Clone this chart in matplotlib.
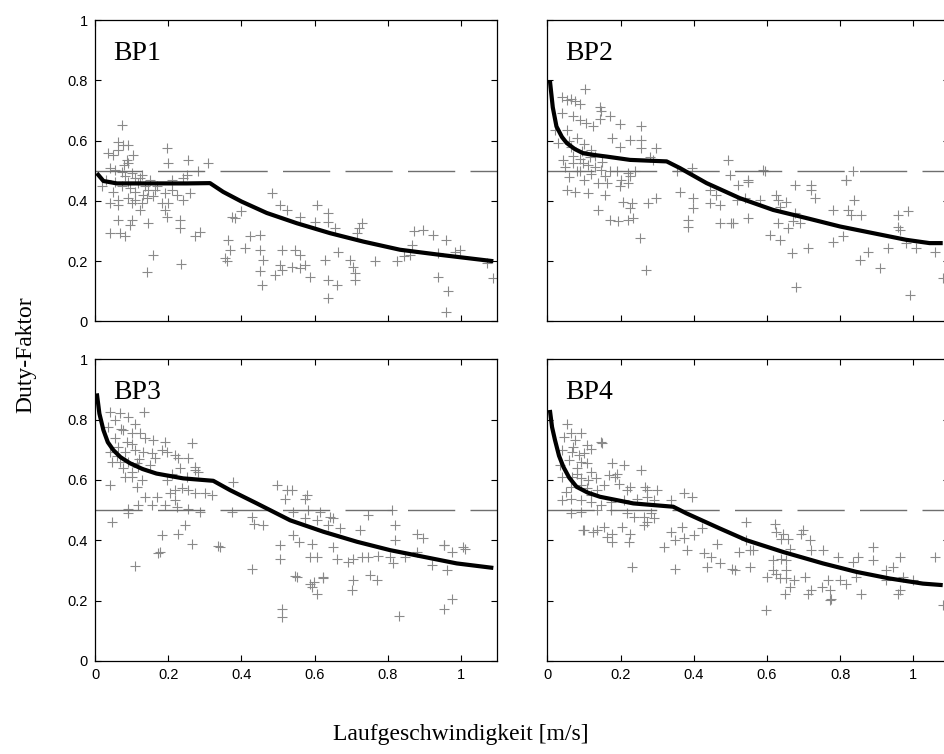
import numpy as np
import matplotlib
matplotlib.use('Agg')
import matplotlib.pyplot as plt

# ── Data ─────────────────────────────────────────────────────────────────────
panel_names = ['BP1', 'BP2', 'BP3', 'BP4']
x_ticks = [0, 0.2, 0.4, 0.6, 0.8, 1]
x_ticklabels = ['0', '0.2', '0.4', '0.6', '0.8', '1']
y_ticks = [0, 0.2, 0.4, 0.6, 0.8, 1]
y_ticklabels = ['0', '0.2', '0.4', '0.6', '0.8', '1']
threshold = 0.5

bp1_points = np.array([
    (0.075, 0.652), (0.064, 0.597), (0.077, 0.586), (0.091, 0.586), (0.036, 0.558),
    (0.05, 0.553), (0.105, 0.553), (0.064, 0.57), (0.087, 0.536), (0.091, 0.525),
    (0.041, 0.508), (0.055, 0.503), (0.073, 0.497), (0.1, 0.492), (0.196, 0.575),
    (0.2, 0.525), (0.255, 0.536), (0.31, 0.527), (0.282, 0.5), (0.128, 0.486),
    (0.123, 0.475), (0.082, 0.481), (0.091, 0.464), (0.109, 0.475), (0.118, 0.459),
    (0.137, 0.448), (0.146, 0.437), (0.096, 0.442), (0.073, 0.448), (0.055, 0.464),
    (0.209, 0.47), (0.241, 0.476), (0.25, 0.487), (0.209, 0.437), (0.223, 0.42),
    (0.26, 0.426), (0.191, 0.426), (0.164, 0.437), (0.182, 0.393), (0.2, 0.393),
    (0.241, 0.404), (0.041, 0.393), (0.064, 0.404), (0.064, 0.387), (0.091, 0.409),
    (0.109, 0.404), (0.128, 0.393), (0.141, 0.409), (0.159, 0.415), (0.123, 0.37),
    (0.1, 0.393), (0.191, 0.37), (0.232, 0.337), (0.196, 0.348), (0.064, 0.337),
    (0.1, 0.337), (0.096, 0.32), (0.146, 0.326), (0.232, 0.31), (0.273, 0.282),
    (0.287, 0.298), (0.041, 0.293), (0.068, 0.293), (0.082, 0.282), (0.159, 0.221),
    (0.141, 0.164), (0.235, 0.191), (0.03, 0.47), (0.05, 0.43), (0.11, 0.43),
    (0.13, 0.42), (0.15, 0.47), (0.17, 0.45), (0.02, 0.45), (0.08, 0.52),
    (0.483, 0.426), (0.505, 0.387), (0.524, 0.37), (0.4, 0.365), (0.373, 0.348),
    (0.383, 0.343), (0.56, 0.348), (0.605, 0.387), (0.6, 0.33), (0.637, 0.36),
    (0.637, 0.33), (0.656, 0.31), (0.72, 0.31), (0.73, 0.326), (0.715, 0.293),
    (0.87, 0.3), (0.897, 0.304), (0.924, 0.288), (0.96, 0.271), (0.865, 0.254),
    (0.938, 0.227), (0.984, 0.232), (0.997, 0.238), (1.07, 0.194), (1.088, 0.144),
    (0.938, 0.149), (0.965, 0.1), (0.96, 0.033), (0.765, 0.2), (0.824, 0.2),
    (0.843, 0.216), (0.86, 0.221), (0.364, 0.271), (0.369, 0.238), (0.355, 0.21),
    (0.36, 0.2), (0.41, 0.243), (0.423, 0.282), (0.451, 0.288), (0.451, 0.238),
    (0.46, 0.205), (0.451, 0.166), (0.455, 0.122), (0.492, 0.155), (0.51, 0.238),
    (0.505, 0.188), (0.51, 0.171), (0.537, 0.182), (0.546, 0.238), (0.56, 0.221),
    (0.56, 0.177), (0.574, 0.188), (0.587, 0.149), (0.628, 0.205), (0.637, 0.138),
    (0.637, 0.078), (0.665, 0.232), (0.66, 0.122), (0.697, 0.205), (0.706, 0.182),
    (0.71, 0.16), (0.71, 0.138),
])
bp1_curve_x = [0.005, 0.023, 0.06, 0.15, 0.25, 0.314, 0.35, 0.4, 0.469, 0.551,
               0.642, 0.733, 0.833, 0.943, 1.088]
bp1_curve_y = [0.492, 0.466, 0.458, 0.458, 0.458, 0.459, 0.43, 0.398, 0.36, 0.326,
               0.293, 0.265, 0.238, 0.221, 0.2]

bp2_points = np.array([
    (0.103, 0.771), (0.039, 0.744), (0.066, 0.737), (0.075, 0.73), (0.089, 0.723),
    (0.053, 0.735), (0.144, 0.711), (0.148, 0.697), (0.171, 0.68), (0.198, 0.656),
    (0.144, 0.671), (0.257, 0.649), (0.039, 0.691), (0.071, 0.68), (0.089, 0.669),
    (0.107, 0.658), (0.126, 0.647), (0.021, 0.636), (0.053, 0.636), (0.03, 0.592),
    (0.066, 0.58), (0.094, 0.564), (0.116, 0.547), (0.176, 0.608), (0.198, 0.58),
    (0.226, 0.603), (0.257, 0.603), (0.257, 0.575), (0.298, 0.575), (0.28, 0.547),
    (0.289, 0.536), (0.044, 0.536), (0.071, 0.525), (0.098, 0.525), (0.089, 0.498),
    (0.048, 0.514), (0.13, 0.514), (0.148, 0.503), (0.157, 0.481), (0.139, 0.459),
    (0.221, 0.492), (0.226, 0.481), (0.198, 0.448), (0.162, 0.459), (0.053, 0.437),
    (0.075, 0.431), (0.112, 0.426), (0.157, 0.42), (0.139, 0.37), (0.207, 0.398),
    (0.23, 0.392), (0.226, 0.376), (0.276, 0.392), (0.298, 0.409), (0.221, 0.337),
    (0.235, 0.343), (0.171, 0.337), (0.194, 0.332), (0.253, 0.276), (0.269, 0.171),
    (0.353, 0.498), (0.394, 0.509), (0.362, 0.431), (0.398, 0.409), (0.398, 0.376),
    (0.385, 0.337), (0.385, 0.315), (0.444, 0.437), (0.444, 0.392), (0.462, 0.42),
    (0.471, 0.387), (0.494, 0.536), (0.498, 0.486), (0.521, 0.453), (0.548, 0.464),
    (0.517, 0.404), (0.539, 0.409), (0.548, 0.343), (0.503, 0.326), (0.471, 0.326),
    (0.508, 0.326), (0.594, 0.498), (0.58, 0.404), (0.626, 0.42), (0.63, 0.404),
    (0.635, 0.381), (0.653, 0.398), (0.608, 0.287), (0.635, 0.271), (0.63, 0.326),
    (0.658, 0.31), (0.676, 0.359), (0.671, 0.332), (0.667, 0.227), (0.68, 0.116),
    (0.712, 0.243), (0.676, 0.453), (0.721, 0.453), (0.721, 0.437), (0.73, 0.409),
    (0.689, 0.326), (0.78, 0.37), (0.78, 0.265), (0.808, 0.282), (0.817, 0.47),
    (0.835, 0.498), (0.821, 0.37), (0.83, 0.354), (0.839, 0.404), (0.858, 0.354),
    (0.853, 0.205), (0.876, 0.232), (0.908, 0.177), (0.93, 0.243), (0.958, 0.354),
    (0.958, 0.315), (0.962, 0.304), (0.985, 0.365), (0.98, 0.26), (1.008, 0.243),
    (0.99, 0.088), (1.058, 0.232), (1.08, 0.144), (0.06, 0.6), (0.08, 0.61),
    (0.1, 0.59), (0.12, 0.57), (0.07, 0.55), (0.09, 0.54), (0.11, 0.52),
    (0.13, 0.55), (0.15, 0.53), (0.17, 0.5), (0.19, 0.5), (0.08, 0.5),
    (0.06, 0.48), (0.1, 0.47), (0.12, 0.49), (0.2, 0.47), (0.22, 0.46),
    (0.24, 0.5), (0.589, 0.503), (0.548, 0.47), (0.817, 0.47),
])
bp2_curve_x = [0.007, 0.015, 0.025, 0.04, 0.053, 0.075, 0.098, 0.13, 0.162, 0.226,
               0.326, 0.362, 0.435, 0.526, 0.617, 0.708, 0.8, 0.89, 0.98, 1.044, 1.08]
bp2_curve_y = [0.8, 0.71, 0.647, 0.612, 0.592, 0.572, 0.558, 0.552, 0.547, 0.536,
               0.531, 0.509, 0.459, 0.409, 0.37, 0.343, 0.315, 0.293, 0.271, 0.26, 0.26]

bp3_points = np.array([
    (0.135, 0.826), (0.041, 0.826), (0.068, 0.821), (0.091, 0.809), (0.055, 0.798),
    (0.109, 0.787), (0.036, 0.776), (0.077, 0.765), (0.1, 0.754), (0.123, 0.754),
    (0.137, 0.738), (0.055, 0.738), (0.087, 0.727), (0.159, 0.732), (0.191, 0.727),
    (0.182, 0.699), (0.196, 0.693), (0.219, 0.682), (0.264, 0.721), (0.228, 0.671),
    (0.255, 0.671), (0.273, 0.643), (0.155, 0.688), (0.164, 0.671), (0.132, 0.693),
    (0.109, 0.699), (0.082, 0.693), (0.064, 0.71), (0.041, 0.693), (0.046, 0.66),
    (0.068, 0.66), (0.091, 0.66), (0.114, 0.655), (0.077, 0.638), (0.1, 0.627),
    (0.118, 0.643), (0.041, 0.583), (0.082, 0.61), (0.1, 0.61), (0.128, 0.599),
    (0.114, 0.577), (0.137, 0.544), (0.168, 0.544), (0.196, 0.599), (0.209, 0.621),
    (0.232, 0.638), (0.25, 0.61), (0.273, 0.632), (0.282, 0.627), (0.219, 0.566),
    (0.237, 0.572), (0.255, 0.566), (0.273, 0.555), (0.301, 0.555), (0.319, 0.549),
    (0.205, 0.555), (0.219, 0.533), (0.091, 0.505), (0.118, 0.516), (0.155, 0.516),
    (0.191, 0.516), (0.223, 0.511), (0.255, 0.505), (0.287, 0.494), (0.091, 0.489),
    (0.046, 0.461), (0.246, 0.45), (0.228, 0.422), (0.264, 0.389), (0.182, 0.417),
    (0.173, 0.356), (0.109, 0.314), (0.342, 0.378), (0.378, 0.594), (0.373, 0.494),
    (0.428, 0.477), (0.433, 0.455), (0.46, 0.45), (0.496, 0.583), (0.524, 0.566),
    (0.519, 0.538), (0.505, 0.383), (0.505, 0.339), (0.428, 0.306), (0.578, 0.549),
    (0.574, 0.538), (0.537, 0.566), (0.542, 0.494), (0.583, 0.5), (0.615, 0.494),
    (0.574, 0.472), (0.606, 0.466), (0.642, 0.477), (0.651, 0.472), (0.637, 0.45),
    (0.669, 0.439), (0.747, 0.483), (0.811, 0.5), (0.82, 0.45), (0.724, 0.433),
    (0.82, 0.4), (0.879, 0.422), (0.897, 0.406), (0.952, 0.383), (0.975, 0.361),
    (1.006, 0.378), (0.542, 0.417), (0.556, 0.395), (0.592, 0.389), (0.651, 0.378),
    (0.587, 0.345), (0.606, 0.345), (0.66, 0.339), (0.692, 0.328), (0.706, 0.339),
    (0.729, 0.345), (0.747, 0.345), (0.774, 0.347), (0.806, 0.345), (0.815, 0.323),
    (0.847, 0.345), (0.879, 0.361), (0.92, 0.317), (0.961, 0.3), (0.546, 0.281),
    (0.597, 0.262), (0.624, 0.278), (0.592, 0.245), (0.606, 0.223), (0.706, 0.267),
    (0.701, 0.234), (0.752, 0.284), (0.77, 0.267), (0.952, 0.173), (0.975, 0.206),
    (0.829, 0.149), (0.51, 0.173), (0.51, 0.146), (0.587, 0.256), (0.624, 0.273),
    (0.551, 0.278), (0.337, 0.38), (0.178, 0.361), (1.011, 0.372), (0.952, 0.384),
    (0.07, 0.77), (0.1, 0.72), (0.06, 0.68), (0.12, 0.67), (0.15, 0.65),
])
bp3_curve_x = [0.005, 0.012, 0.023, 0.035, 0.05, 0.07, 0.096, 0.13, 0.168, 0.241,
               0.323, 0.369, 0.442, 0.533, 0.624, 0.715, 0.806, 0.897, 0.988, 1.088]
bp3_curve_y = [0.887, 0.82, 0.765, 0.725, 0.699, 0.675, 0.655, 0.636, 0.621, 0.605,
               0.597, 0.566, 0.522, 0.466, 0.428, 0.395, 0.367, 0.345, 0.323, 0.308]

bp4_points = np.array([
    (0.055, 0.787), (0.064, 0.754), (0.091, 0.754), (0.045, 0.743), (0.077, 0.732),
    (0.109, 0.715), (0.146, 0.727), (0.15, 0.721), (0.041, 0.699), (0.068, 0.693),
    (0.086, 0.682), (0.118, 0.704), (0.059, 0.666), (0.091, 0.66), (0.109, 0.655),
    (0.036, 0.649), (0.082, 0.638), (0.177, 0.655), (0.209, 0.649), (0.191, 0.621),
    (0.168, 0.616), (0.118, 0.627), (0.132, 0.605), (0.091, 0.605), (0.068, 0.61),
    (0.041, 0.61), (0.255, 0.632), (0.064, 0.577), (0.091, 0.583), (0.109, 0.572),
    (0.136, 0.566), (0.155, 0.583), (0.186, 0.61), (0.196, 0.588), (0.227, 0.577),
    (0.218, 0.566), (0.268, 0.577), (0.273, 0.566), (0.3, 0.566), (0.041, 0.533),
    (0.064, 0.538), (0.091, 0.533), (0.118, 0.527), (0.146, 0.516), (0.173, 0.527),
    (0.209, 0.533), (0.246, 0.538), (0.273, 0.544), (0.291, 0.533), (0.337, 0.533),
    (0.373, 0.555), (0.396, 0.544), (0.064, 0.489), (0.091, 0.494), (0.136, 0.5),
    (0.173, 0.5), (0.218, 0.489), (0.236, 0.478), (0.264, 0.478), (0.282, 0.489),
    (0.291, 0.472), (0.1, 0.433), (0.136, 0.433), (0.155, 0.444), (0.177, 0.422),
    (0.164, 0.411), (0.205, 0.444), (0.227, 0.422), (0.223, 0.395), (0.177, 0.395),
    (0.264, 0.45), (0.273, 0.461), (0.318, 0.378), (0.337, 0.428), (0.368, 0.444),
    (0.373, 0.406), (0.4, 0.417), (0.382, 0.367), (0.35, 0.4), (0.423, 0.439),
    (0.427, 0.356), (0.437, 0.312), (0.446, 0.345), (0.473, 0.323), (0.464, 0.389),
    (0.505, 0.306), (0.514, 0.3), (0.523, 0.361), (0.232, 0.312), (0.35, 0.306),
    (0.544, 0.461), (0.621, 0.455), (0.626, 0.428), (0.644, 0.422), (0.657, 0.405),
    (0.639, 0.405), (0.698, 0.433), (0.694, 0.422), (0.717, 0.4), (0.721, 0.367),
    (0.753, 0.367), (0.553, 0.367), (0.562, 0.367), (0.544, 0.4), (0.617, 0.334),
    (0.639, 0.339), (0.653, 0.334), (0.662, 0.372), (0.553, 0.311), (0.617, 0.3),
    (0.626, 0.289), (0.653, 0.3), (0.599, 0.278), (0.635, 0.273), (0.653, 0.273),
    (0.675, 0.267), (0.703, 0.278), (0.662, 0.245), (0.648, 0.223), (0.712, 0.223),
    (0.721, 0.234), (0.749, 0.245), (0.767, 0.267), (0.771, 0.234), (0.776, 0.206),
    (0.799, 0.267), (0.817, 0.256), (0.844, 0.278), (0.858, 0.223), (0.794, 0.345),
    (0.835, 0.328), (0.849, 0.345), (0.889, 0.378), (0.889, 0.334), (0.926, 0.3),
    (0.944, 0.311), (0.962, 0.345), (0.926, 0.267), (0.971, 0.278), (0.999, 0.267),
    (1.058, 0.345), (0.958, 0.223), (0.962, 0.234), (0.598, 0.168), (1.08, 0.184),
    (0.771, 0.201), (0.098, 0.433), (0.126, 0.428), (0.07, 0.71), (0.1, 0.69),
    (0.08, 0.62), (0.11, 0.6), (0.05, 0.56), (0.12, 0.55),
])
bp4_curve_x = [0.007, 0.013, 0.021, 0.032, 0.044, 0.06, 0.08, 0.11, 0.144, 0.235,
               0.344, 0.38, 0.471, 0.544, 0.644, 0.753, 0.844, 0.935, 1.026, 1.08]
bp4_curve_y = [0.832, 0.775, 0.732, 0.68, 0.643, 0.607, 0.577, 0.558, 0.544, 0.522,
               0.511, 0.489, 0.439, 0.4, 0.361, 0.323, 0.295, 0.273, 0.256, 0.251]

all_points = [bp1_points, bp2_points, bp3_points, bp4_points]
all_curve_x = [bp1_curve_x, bp2_curve_x, bp3_curve_x, bp4_curve_x]
all_curve_y = [bp1_curve_y, bp2_curve_y, bp3_curve_y, bp4_curve_y]

# ── Figure ───────────────────────────────────────────────────────────────────
plt.rcParams['font.family'] = ['Liberation Sans', 'DejaVu Sans']
fig = plt.figure(figsize=(9.44, 7.54), dpi=100)

W, H = 944, 754
ax_w, ax_h = 402, 301.5
lefts = [95, 547.3]
tops = [20, 359.3]

for k in range(4):
    row, col = divmod(k, 2)
    l = lefts[col] / W
    b = 1 - (tops[row] + ax_h) / H
    ax = fig.add_axes([l, b, ax_w / W, ax_h / H])

    pts = all_points[k]
    ax.plot(pts[:, 0], pts[:, 1], linestyle='none', marker='+', markersize=7.5,
            markeredgewidth=0.8, color='#8a8a8a', clip_on=True)
    ax.axhline(threshold, color='#6e6e6e', linewidth=1.0, dashes=(34, 11))
    ax.plot(all_curve_x[k], all_curve_y[k], color='black', linewidth=3.0,
            solid_capstyle='butt')

    ax.set_xlim(0, 1.098)
    ax.set_ylim(0, 1)
    ax.set_xticks(x_ticks)
    ax.set_yticks(y_ticks)
    ax.set_xticklabels(x_ticklabels if row == 1 else [])
    ax.set_yticklabels(y_ticklabels if col == 0 else [])
    ax.tick_params(direction='in', top=True, right=True, length=4, width=0.8,
                   labelsize=10.5, pad=5)
    for sp in ax.spines.values():
        sp.set_linewidth(0.9)

    ax.text(0.045, 0.867, panel_names[k], transform=ax.transAxes,
            family='Liberation Serif', fontsize=20, va='baseline', ha='left')

fig.text(0.027, 0.53, 'Duty-Faktor', rotation=90, family='Liberation Serif',
         fontsize=17, ha='center', va='center')
fig.text(0.488, 0.026, 'Laufgeschwindigkeit [m/s]', family='Liberation Serif',
         fontsize=17, ha='center', va='center')

fig.savefig('out.png', dpi=100)
